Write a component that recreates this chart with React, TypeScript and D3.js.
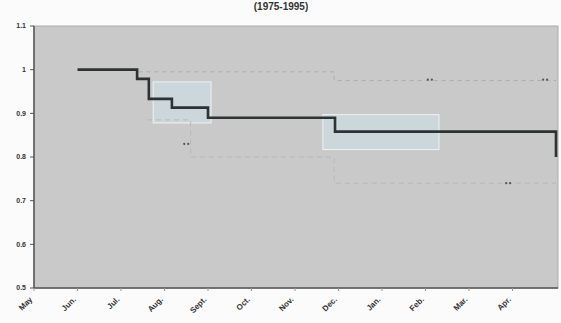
import * as d3 from "d3";

// month labels along the bottom (May .. Apr.)
const months = ["May", "Jun.", "Jul.", "Aug.", "Sept.", "Oct.", "Nov.", "Dec.", "Jan.", "Feb.", "Mar.", "Apr."];
const yTicks = [0.5, 0.6, 0.7, 0.8, 0.9, 1, 1.1];

// survival step curve: time in months since May, value
const stepTimes = [1, 2.37, 2.64, 3.17, 4.0, 6.92, 12.0];
const stepValues = [1, 0.979, 0.933, 0.913, 0.89, 0.858, 0.8];

// shaded boxes
const boxStart = [2.74, 6.64];
const boxEnd = [4.07, 9.31];
const boxTop = [0.972, 0.897];
const boxBottom = [0.878, 0.817];

// faint confidence limits
const upperTimes = [2.4, 6.9, 6.9, 12];
const upperValues = [0.995, 0.995, 0.975, 0.975];
const lowerTimes = [2.6, 3.6, 3.6, 6.9, 6.9, 12];
const lowerValues = [0.885, 0.885, 0.8, 0.8, 0.74, 0.74];

// censor marks
const markTimes = [3.5, 9.1, 10.9, 11.75];
const markValues = [0.83, 0.977, 0.74, 0.977];

export default function App() {
  const width = 561;
  const height = 323;
  const margin = { top: 26, right: 3, bottom: 35, left: 34 };

  const x = d3.scaleLinear().domain([0, 12]).range([margin.left, 556]);
  const y = d3.scaleLinear().domain([0.5, 1.1]).range([height - margin.bottom, margin.top]);

  const stepLine = d3
    .line<number>()
    .x((_, i) => x(stepTimes[i]))
    .y((v) => y(v))
    .curve(d3.curveStepAfter);

  const plainLine = (ts: number[]) =>
    d3
      .line<number>()
      .x((_, i) => x(ts[i]))
      .y((v) => y(v));

  // final drop at the right edge
  const endPath = `M${x(12)},${y(0.858)}V${y(0.8)}`;

  return (
    <svg
      width={width}
      height={height}
      style={{ position: "absolute", left: 0, top: 0, background: "#fbfbfb" }}
      fontFamily="Liberation Sans, Arial, sans-serif"
    >
      <text x={281} y={10} textAnchor="middle" fontSize={10} fontWeight="bold" fill="#333">
        (1975-1995)
      </text>

      <rect
        x={margin.left}
        y={margin.top}
        width={558 - margin.left}
        height={y(0.5) - margin.top}
        fill="#c9c9c9"
        stroke="#acacac"
        strokeWidth={1}
      />

      {boxStart.map((t, i) => (
        <rect
          key={i}
          x={x(t)}
          y={y(boxTop[i])}
          width={x(boxEnd[i]) - x(t)}
          height={y(boxBottom[i]) - y(boxTop[i])}
          fill="#cbd7db"
          stroke="#eef2f2"
          strokeWidth={1}
        />
      ))}

      <path
        d={plainLine(upperTimes)(upperValues) || ""}
        fill="none"
        stroke="#adadad"
        strokeWidth={1}
        strokeDasharray="4 4"
      />
      <path
        d={plainLine(lowerTimes)(lowerValues) || ""}
        fill="none"
        stroke="#b8b8b8"
        strokeWidth={1}
        strokeDasharray="5 4"
      />

      {markTimes.map((t, i) => (
        <g key={i} fill="#555">
          <circle cx={x(t) - 2} cy={y(markValues[i])} r={1.1} />
          <circle cx={x(t) + 2} cy={y(markValues[i])} r={1.1} />
        </g>
      ))}

      <path d={stepLine(stepValues) || ""} fill="none" stroke="#2d3333" strokeWidth={2.6} />
      <path d={endPath} fill="none" stroke="#2d3333" strokeWidth={2} />

      {/* axes */}
      <line x1={margin.left} x2={margin.left} y1={margin.top} y2={y(0.5)} stroke="#555" strokeWidth={1.5} />
      <line x1={margin.left} x2={558} y1={y(0.5)} y2={y(0.5)} stroke="#555" strokeWidth={1.5} />

      {yTicks.map((v) => (
        <g key={v}>
          <line x1={margin.left - 4} x2={margin.left} y1={y(v)} y2={y(v)} stroke="#555" />
          <text
            x={margin.left - 8}
            y={y(v)}
            dy="0.35em"
            textAnchor="end"
            fontSize={7}
            fontWeight="bold"
            fill="#333"
          >
            {String(+v.toFixed(1))}
          </text>
        </g>
      ))}

      {months.map((m, i) => (
        <g key={m}>
          <line x1={x(i)} x2={x(i)} y1={y(0.5)} y2={y(0.5) + 3} stroke="#999" />
          <text
            transform={`translate(${x(i) - 1},${y(0.5) + 12}) rotate(-45)`}
            textAnchor="end"
            fontSize={8}
            fontWeight="bold"
            fill="#333"
          >
            {m}
          </text>
        </g>
      ))}
    </svg>
  );
}
